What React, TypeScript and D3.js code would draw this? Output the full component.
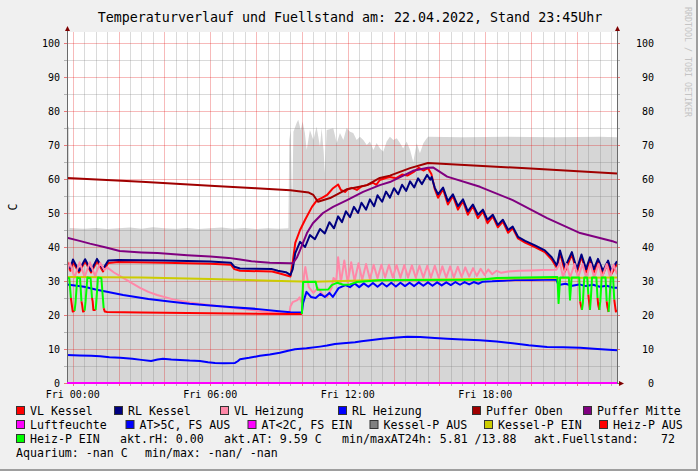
import React, { useEffect } from 'react';
import * as d3 from 'd3';

// ---------- data (hours since Fri 00:00, value in °C / %) ----------
const T_START = -0.25;
const T_END = 23.75;
const xTickHours = [0, 6, 12, 18];
const xTickLabels = ['Fri 00:00', 'Fri 06:00', 'Fri 12:00', 'Fri 18:00'];
const yTicks = [0, 10, 20, 30, 40, 50, 60, 70, 80, 90, 100];

const fuellstand: number[][] = [
  [-0.25, 75.0], [-0.17, 75.5], [-0.13, 45.6], [0.5, 45.4], [1.0, 45.6], [1.5, 45.3], [2.0, 45.5],
  [2.5, 45.7], [3.0, 45.4], [3.5, 45.8], [4.0, 45.5], [4.5, 45.4], [5.0, 45.6], [5.5, 45.3],
  [6.0, 45.5], [6.5, 45.7], [7.0, 45.4], [7.5, 45.6], [8.0, 45.3], [8.5, 45.5], [9.0, 45.4],
  [9.41, 45.5], [9.45, 71.5], [9.51, 74.4], [9.55, 60.0], [9.58, 53.8], [9.63, 73.9], [9.77, 76.5],
  [9.84, 77.4], [9.95, 74.4], [10.03, 76.9], [10.13, 73.5], [10.21, 68.5], [10.35, 74.4], [10.5, 71.5],
  [10.64, 75.4], [10.79, 69.5], [10.86, 75.0], [10.95, 68.0], [11.0, 61.7], [11.08, 74.4], [11.37, 74.9],
  [11.52, 70.5], [11.66, 73.5], [11.81, 71.5], [11.95, 75.0], [12.1, 73.9], [12.24, 73.5], [12.39, 71.5],
  [12.53, 72.4], [12.68, 71.5], [12.83, 70.0], [12.97, 71.0], [13.12, 68.5], [13.26, 70.6], [13.41, 69.0],
  [13.55, 68.0], [13.7, 71.0], [13.84, 72.4], [13.99, 71.5], [14.14, 72.0], [14.28, 70.6], [14.42, 69.0],
  [14.57, 71.0], [14.72, 68.5], [14.86, 65.0], [15.01, 70.5], [15.15, 67.6], [15.3, 70.5], [15.45, 72.0],
  [15.51, 72.4], [17.0, 72.3], [19.0, 72.4], [21.0, 72.3], [23.0, 72.4], [23.75, 72.3],
];

const vlKessel: number[][] = [
  [-0.25, 35.8], [-0.1, 33.0], [0.01, 35.6], [0.27, 32.5], [0.54, 35.8], [0.8, 32.5], [1.06, 35.8],
  [1.32, 32.8], [1.55, 35.3], [2.0, 35.6], [4.0, 35.4], [6.0, 35.1], [6.9, 34.8], [7.05, 33.5],
  [7.3, 33.0], [8.7, 32.8], [9.0, 32.3], [9.5, 31.3], [9.6, 35.5], [9.71, 41.2], [9.92, 45.0],
  [10.14, 48.0], [10.44, 51.8], [10.66, 53.8], [10.9, 54.5], [11.1, 55.3], [11.36, 57.3], [11.58, 58.4],
  [11.7, 56.8], [11.88, 56.2], [12.0, 57.0], [12.18, 57.4], [12.4, 56.8], [12.6, 57.8], [12.84, 58.2],
  [13.1, 58.9], [13.25, 58.3], [13.4, 59.7], [13.66, 60.3], [13.84, 60.6], [14.1, 60.2], [14.37, 61.3],
  [14.6, 61.0], [14.9, 62.2], [15.1, 63.3], [15.3, 62.5], [15.5, 63.2], [15.65, 61.5], [15.8, 57.0],
  [15.94, 54.5], [16.16, 57.0], [16.37, 52.5], [16.59, 55.0], [16.81, 51.0], [17.03, 53.5], [17.24, 49.5],
  [17.46, 52.0], [17.68, 48.5], [17.9, 50.5], [18.1, 47.0], [18.33, 49.0], [18.55, 45.8], [18.77, 47.5],
  [19.0, 44.2], [19.2, 45.5], [19.43, 42.5], [19.74, 41.3], [20.17, 40.0], [20.6, 38.5], [20.9, 36.3],
  [21.13, 33.8], [21.26, 38.3], [21.48, 32.8], [21.78, 37.8], [22.0, 32.5], [22.2, 37.2], [22.4, 32.5],
  [22.57, 36.5], [22.74, 32.5], [22.92, 36.0], [23.14, 32.0], [23.36, 35.5], [23.5, 32.0], [23.75, 35.0],
];

const rlKessel: number[][] = [
  [-0.25, 34.8], [-0.1, 33.8], [0.01, 36.3], [0.27, 33.0], [0.54, 36.4], [0.8, 33.0], [1.06, 36.5],
  [1.32, 33.5], [1.55, 36.0], [2.0, 36.2], [3.0, 36.1], [4.0, 36.0], [5.0, 35.9], [6.0, 35.7],
  [6.9, 35.4], [7.05, 34.2], [7.3, 33.7], [8.0, 33.6], [8.7, 33.5], [8.95, 33.0], [9.3, 32.6],
  [9.5, 31.8], [9.6, 33.5], [9.71, 38.2], [9.92, 41.5], [10.14, 40.0], [10.35, 43.5], [10.57, 42.3],
  [10.79, 45.3], [11.0, 44.0], [11.2, 47.3], [11.4, 45.5], [11.58, 49.0], [11.75, 47.3], [11.92, 50.5],
  [12.1, 48.8], [12.27, 51.8], [12.45, 50.0], [12.6, 53.0], [12.8, 51.0], [12.97, 54.0], [13.15, 52.0],
  [13.3, 55.2], [13.5, 53.3], [13.67, 56.3], [13.84, 54.5], [14.02, 57.3], [14.2, 55.5], [14.37, 58.3],
  [14.55, 56.5], [14.72, 59.3], [14.9, 57.5], [15.07, 60.2], [15.24, 58.5], [15.46, 61.2], [15.6, 59.8],
  [15.66, 60.6], [15.8, 57.4], [15.94, 55.5], [16.16, 57.5], [16.37, 53.5], [16.59, 55.5], [16.81, 52.0],
  [17.03, 54.0], [17.24, 50.5], [17.46, 52.5], [17.68, 49.5], [17.9, 51.0], [18.1, 48.0], [18.33, 49.5],
  [18.55, 46.5], [18.77, 48.0], [19.0, 45.0], [19.2, 46.0], [19.43, 43.0], [19.74, 41.8], [20.17, 40.5],
  [20.6, 39.0], [20.9, 37.0], [21.13, 34.5], [21.26, 39.0], [21.48, 34.0], [21.78, 38.5], [22.0, 33.5],
  [22.2, 37.8], [22.4, 33.5], [22.57, 37.0], [22.74, 33.5], [22.92, 36.5], [23.14, 33.0], [23.36, 36.0],
  [23.5, 33.0], [23.75, 35.8],
];

const vlHeizung: number[][] = [
  [-0.25, 33.0], [-0.12, 35.3], [0.08, 31.0], [0.3, 35.5], [0.52, 31.2], [0.75, 35.5], [0.97, 31.5],
  [1.2, 35.3], [1.38, 33.2], [1.5, 34.0], [1.8, 32.5], [2.2, 30.9], [2.6, 29.3], [2.94, 28.0],
  [3.3, 26.8], [3.68, 25.9], [4.38, 24.6], [5.1, 23.7], [5.86, 23.0], [6.6, 22.4], [7.3, 21.8],
  [8.0, 21.3], [8.6, 20.8], [9.3, 20.4], [9.45, 20.3], [9.5, 22.5], [9.6, 23.8], [9.8, 24.4],
  [9.9, 25.2], [10.0, 23.5], [10.1, 32.0], [10.15, 34.1], [10.3, 28.2], [10.5, 26.5], [10.7, 28.0],
  [10.9, 26.0], [11.1, 25.3], [11.3, 28.0], [11.38, 30.9], [11.5, 30.0], [11.58, 37.0], [11.7, 29.5],
  [11.85, 36.0], [12.0, 29.5], [12.15, 35.5], [12.3, 30.0], [12.47, 35.2], [12.63, 30.3], [12.8, 35.0],
  [12.97, 30.5], [13.13, 34.8], [13.3, 30.8], [13.47, 34.8], [13.63, 31.0], [13.8, 34.8], [13.97, 31.0],
  [14.13, 34.7], [14.3, 31.0], [14.47, 34.7], [14.63, 31.0], [14.8, 34.6], [14.97, 31.0], [15.13, 34.5],
  [15.3, 31.0], [15.47, 34.5], [15.63, 31.0], [15.8, 34.5], [15.97, 31.0], [16.13, 34.3], [16.3, 31.0],
  [16.47, 34.3], [16.63, 31.0], [16.8, 34.2], [16.97, 31.2], [17.13, 34.0], [17.3, 31.3], [17.47, 33.8],
  [17.63, 31.5], [17.8, 33.6], [17.97, 31.8], [18.13, 33.4], [18.3, 32.0], [18.5, 33.0], [18.7, 32.4],
  [19.0, 32.8], [19.5, 33.0], [20.0, 33.1], [20.5, 33.2], [21.1, 33.3], [21.26, 35.3], [21.4, 31.0],
  [21.55, 35.0], [21.7, 31.0], [21.9, 35.0], [22.05, 31.0], [22.25, 35.0], [22.4, 31.0], [22.6, 35.0],
  [22.75, 31.0], [22.95, 35.0], [23.1, 31.0], [23.3, 35.0], [23.45, 31.0], [23.6, 34.8], [23.75, 32.0],
];

const rlHeizung: number[][] = [
  [-0.25, 29.0], [0.5, 28.3], [1.0, 27.5], [1.6, 26.7], [2.2, 25.9], [3.3, 24.7], [4.4, 23.8],
  [5.1, 23.3], [5.86, 22.9], [7.0, 22.3], [8.0, 21.8], [9.0, 21.1], [9.5, 20.8], [10.0, 20.7],
  [10.05, 23.5], [10.2, 26.8], [10.4, 25.3], [10.6, 25.0], [10.8, 26.2], [11.0, 25.3], [11.2, 26.5],
  [11.35, 25.3], [11.6, 27.9], [11.9, 28.8], [12.1, 28.2], [12.3, 29.3], [12.5, 28.2], [12.7, 29.3],
  [12.9, 28.3], [13.1, 29.4], [13.3, 28.3], [13.5, 29.4], [13.7, 28.4], [13.9, 29.5], [14.1, 28.4],
  [14.3, 29.5], [14.5, 28.5], [14.7, 29.5], [14.9, 28.5], [15.1, 29.6], [15.3, 28.6], [15.5, 29.6],
  [15.7, 28.6], [15.9, 29.6], [16.1, 28.7], [16.3, 29.6], [16.5, 28.8], [16.7, 29.7], [16.9, 28.9],
  [17.1, 29.7], [17.3, 29.0], [17.5, 29.7], [17.7, 29.2], [17.9, 29.8], [18.3, 29.9], [18.8, 30.1],
  [19.3, 30.3], [20.0, 30.3], [20.6, 30.4], [21.1, 30.4], [21.2, 28.8], [21.5, 29.2], [21.8, 28.6],
  [22.1, 29.0], [22.4, 28.5], [22.7, 28.9], [23.0, 28.3], [23.3, 28.6], [23.6, 28.0], [23.75, 28.0],
];

const pufferOben: number[][] = [
  [-0.25, 60.3], [3.0, 59.2], [6.0, 58.0], [8.0, 57.3], [9.5, 56.7], [10.3, 56.0], [10.5, 55.3],
  [10.7, 53.3], [11.23, 54.4], [11.97, 57.0], [12.84, 58.2], [13.4, 60.3], [13.84, 61.0], [14.72, 63.2],
  [15.5, 64.7], [19.6, 63.2], [23.75, 61.6],
];

const pufferMitte: number[][] = [
  [-0.25, 42.7], [0.3, 41.8], [0.75, 41.0], [1.5, 39.8], [2.05, 38.8], [3.0, 38.4], [3.7, 38.2],
  [5.0, 37.6], [6.0, 37.2], [6.8, 36.8], [7.3, 36.3], [7.8, 35.8], [8.6, 35.4], [9.49, 35.2],
  [9.62, 35.3], [9.79, 37.0], [9.92, 39.1], [10.22, 44.1], [10.48, 47.0], [10.92, 50.0], [11.36, 51.8],
  [11.97, 53.8], [12.67, 56.2], [13.4, 58.2], [13.84, 59.1], [14.85, 62.4], [15.5, 63.3], [15.72, 63.4],
  [16.34, 60.7], [17.77, 57.7], [19.2, 53.8], [20.7, 48.5], [22.14, 44.1], [23.6, 41.6], [23.75, 41.2],
];

const aussenTemp: number[][] = [
  [-0.25, 8.2], [0.3, 8.1], [0.8, 8.0], [1.2, 7.9], [1.6, 7.6], [2.07, 7.4], [2.6, 7.1], [3.0, 6.8],
  [3.42, 6.5], [3.7, 6.9], [3.94, 7.1], [4.3, 6.9], [4.68, 6.8], [5.1, 6.6], [5.55, 6.5], [5.9, 6.1],
  [6.21, 5.9], [6.6, 5.8], [7.08, 5.9], [7.2, 6.4], [7.3, 7.0], [7.7, 7.4], [8.17, 8.0], [8.6, 8.4],
  [9.04, 8.9], [9.4, 9.5], [9.7, 9.9], [10.2, 10.2], [10.79, 10.7], [11.1, 11.0], [11.44, 11.5],
  [11.8, 11.7], [12.32, 12.0], [12.6, 12.3], [12.97, 12.6], [13.5, 13.0], [14.15, 13.4], [14.6, 13.6],
  [15.16, 13.5], [15.8, 13.2], [16.34, 13.0], [17.0, 12.8], [17.77, 12.6], [18.5, 12.2], [19.2, 11.7],
  [19.9, 11.1], [20.7, 10.6], [21.4, 10.5], [22.14, 10.4], [22.9, 10.0], [23.4, 9.8], [23.75, 9.6],
];

const luftfeuchte: number[][] = [[-0.25, 0], [23.75, 0]];

const kesselPEin: number[][] = [
  [-0.25, 31.2], [3.0, 31.0], [6.0, 30.6], [9.5, 29.9], [10.5, 29.8], [13.0, 30.2], [17.0, 30.5],
  [21.0, 30.9], [23.75, 31.0],
];

// [hour, value, pump on (1) / off (0)]
const heizP: number[][] = [
  [-0.25, 31.0, 1], [-0.15, 30.8, 1], [-0.08, 25.0, 1], [-0.05, 23.5, 0], [0.0, 21.0, 0], [0.08, 21.2, 0],
  [0.12, 23.5, 1], [0.2, 31.0, 1], [0.32, 30.8, 1], [0.38, 24.0, 1], [0.41, 23.0, 0], [0.45, 21.0, 0],
  [0.52, 21.3, 0], [0.56, 24.0, 1], [0.64, 31.0, 1], [0.78, 30.8, 1], [0.84, 25.0, 1], [0.87, 24.0, 0],
  [0.9, 21.5, 0], [1.0, 21.5, 0], [1.03, 24.0, 1], [1.1, 31.0, 1], [1.25, 30.8, 1], [1.35, 22.0, 1],
  [1.4, 21.0, 0], [1.5, 20.9, 0], [3.0, 20.7, 0], [6.0, 20.5, 0], [8.0, 20.4, 0], [9.5, 20.3, 0],
  [10.0, 20.3, 0], [10.05, 29.7, 1], [10.6, 29.8, 1], [10.68, 27.4, 1], [11.15, 27.5, 1], [11.3, 28.8, 1],
  [11.55, 29.5, 1], [11.8, 28.9, 1], [12.1, 29.0, 1], [12.4, 29.7, 1], [13.4, 30.2, 1], [15.0, 30.3, 1],
  [17.8, 30.4, 1], [18.5, 30.9, 1], [21.1, 31.2, 1], [21.15, 31.2, 1], [21.2, 23.5, 1], [21.27, 31.0, 1],
  [21.65, 31.0, 1], [21.7, 24.5, 1], [21.77, 31.0, 1], [22.1, 31.0, 1], [22.14, 24.0, 1], [22.17, 23.0, 0],
  [22.22, 21.5, 0], [22.26, 23.5, 1], [22.32, 31.0, 1], [22.45, 31.0, 1], [22.5, 26.0, 1], [22.53, 24.0, 0],
  [22.57, 21.5, 0], [22.61, 25.0, 1], [22.66, 31.0, 1], [22.85, 31.0, 1], [22.9, 25.0, 1], [22.93, 23.0, 0],
  [22.98, 21.5, 0], [23.02, 24.0, 1], [23.08, 31.0, 1], [23.25, 31.0, 1], [23.3, 24.0, 1], [23.33, 22.5, 0],
  [23.38, 20.9, 0], [23.42, 24.0, 1], [23.48, 31.0, 1], [23.58, 31.0, 1], [23.63, 24.5, 1], [23.66, 23.0, 0],
  [23.7, 21.0, 0], [23.75, 21.5, 0],
];

const legendRow1 = ['VL Kessel', 'RL Kessel', 'VL Heizung', 'RL Heizung', 'Puffer Oben', 'Puffer Mitte'];
const legendRow1Colors = ['#ff0000', '#000080', '#ff88a8', '#0000ff', '#a00000', '#800080'];
const legendRow2 = ['Luftfeuchte', 'AT>5C, FS AUS', 'AT<2C, FS EIN', 'Kessel-P AUS', 'Kessel-P EIN', 'Heiz-P AUS'];
const legendRow2Colors = ['#ff00ff', '#0000ff', '#ff00ff', '#808080', '#cccc00', '#ff0000'];
const legendRow3Swatch = 'Heiz-P EIN';
const legendRow3Color = '#00ff00';
const statTexts = ['akt.rH: 0.00', 'akt.AT: 9.59 C', 'min/maxAT24h: 5.81 /13.88', 'akt.Fuellstand:', '72'];
const aquariumTexts = ['Aquarium: -nan C', 'min/max: -nan/ -nan'];
const titleText = 'Temperaturverlauf und Fuellstand am: 22.04.2022, Stand 23:45Uhr';
const yAxisTitle = 'C';
const watermark = 'RRDTOOL / TOBI OETIKER';

// ---------- layout ----------
const W = 698;
const H = 471;
const PL = 67;
const PR = 617;
const PT = 32;
const PB = 383;
const FONT = '"DejaVu Sans Mono", "Liberation Mono", monospace';
const row1X = [16, 114, 220, 338, 472, 583];
const row2X = [16, 125.5, 247.5, 369.5, 484, 599];
const statX = [120, 224, 342, 534, 661];
const aquaX = [16, 145];
const rowY = [411, 425, 439, 453];

export default function App() {
  useEffect(() => {
    document.body.style.margin = '0';
  }, []);

  const x = d3.scaleLinear().domain([T_START, T_END]).range([PL, PR]);
  const y = d3.scaleLinear().domain([0, 100]).range([PB, 43]);
  const line = d3.line<number[]>().x(d => x(d[0])).y(d => y(d[1]));
  const area = d3.area<number[]>().x(d => x(d[0])).y0(y(0)).y1(d => y(d[1]));

  const hGrid = d3.range(0, 101, 5);
  const vGrid = d3.range(0, 24, 0.5);

  // heiz-pump segments coloured by state
  const heizRuns: { on: boolean; pts: number[][] }[] = [];
  let cur: { on: boolean; pts: number[][] } | null = null;
  for (let i = 1; i < heizP.length; i++) {
    const on = heizP[i][2] === 1;
    if (!cur || cur.on !== on) {
      cur = { on, pts: [heizP[i - 1]] };
      heizRuns.push(cur);
    }
    cur.pts.push(heizP[i]);
  }

  const minorCol = 'rgba(120,120,120,0.27)';
  const majorCol = 'rgba(225,0,0,0.27)';

  const series: { data: number[][]; color: string }[] = [
    { data: vlKessel, color: '#ff0000' },
    { data: rlKessel, color: '#000080' },
    { data: vlHeizung, color: '#ff88a8' },
    { data: rlHeizung, color: '#0000ff' },
    { data: pufferOben, color: '#a00000' },
    { data: pufferMitte, color: '#800080' },
    { data: aussenTemp, color: '#0000ff' },
    { data: kesselPEin, color: '#cccc00' },
  ];

  const swatch = (sx: number, cy: number, color: string, key: string) => (
    <rect key={key} x={sx + 0.5} y={cy - 4.5} width={8} height={8} fill={color} stroke="#333" strokeWidth={1} />
  );

  return (
    <svg width={W} height={H} style={{ position: 'absolute', left: 0, top: 0, display: 'block' }} fontFamily={FONT}>
      <defs>
        <clipPath id="plotClip">
          <rect x={PL} y={PT} width={PR - PL} height={PB - PT + 2} />
        </clipPath>
      </defs>
      <rect x={0} y={0} width={W} height={H} fill="#f0f0f0" />
      <rect x={W - 2} y={0} width={2} height={H} fill="#9e9e9e" />
      <rect x={0} y={H - 2} width={W} height={2} fill="#9e9e9e" />

      {/* plot canvas */}
      <rect x={PL} y={PT} width={PR - PL} height={PB - PT} fill="#ffffff" />

      <g clipPath="url(#plotClip)">
        <path d={area(fuellstand) || ''} fill="#d6d6d6" />
      </g>

      {/* grid */}
      <g shapeRendering="crispEdges">
        {vGrid.map(h => {
          const major = Math.abs(h % 2) < 1e-9;
          const px = Math.round(x(h)) + 0.5;
          return (
            <g key={'v' + h}>
              <line x1={px} x2={px} y1={PT} y2={PB} stroke={major ? majorCol : minorCol} />
              <line x1={px} x2={px} y1={PB} y2={PB + 3} stroke={major ? 'rgba(225,0,0,0.5)' : 'rgba(120,120,120,0.5)'} />
            </g>
          );
        })}
        {hGrid.map(v => {
          const major = v % 10 === 0;
          const py = Math.round(y(v)) + 0.5;
          const c = major ? majorCol : minorCol;
          const ct = major ? 'rgba(225,0,0,0.5)' : 'rgba(120,120,120,0.5)';
          return (
            <g key={'h' + v}>
              <line x1={PL} x2={PR} y1={py} y2={py} stroke={c} />
              <line x1={PL - 3} x2={PL} y1={py} y2={py} stroke={ct} />
              <line x1={PR} x2={PR + 3} y1={py} y2={py} stroke={ct} />
            </g>
          );
        })}
      </g>

      {/* data lines */}
      <g clipPath="url(#plotClip)" fill="none" strokeWidth={2} strokeLinejoin="round">
        {series.map((s, i) => (
          <path key={'s' + i} d={line(s.data) || ''} stroke={s.color} />
        ))}
        {heizRuns.map((r, i) => (
          <path key={'hp' + i} d={line(r.pts) || ''} stroke={r.on ? '#00ff00' : '#ff0000'} />
        ))}
      </g>

      {/* axes */}
      <g shapeRendering="crispEdges" stroke="#6a6a6a">
        <line x1={PL + 0.5} x2={PL + 0.5} y1={PB} y2={PT - 2} />
        <line x1={PR + 0.5} x2={PR + 0.5} y1={PB} y2={PT - 2} />
        <line x1={PL} x2={PR + 3} y1={PB + 0.5} y2={PB + 0.5} />
      </g>
      <g clipPath="url(#plotClip)">
        <path d={line(luftfeuchte) || ''} stroke="#ff00ff" strokeWidth={2} fill="none" />
      </g>
      <g fill="#7f0000">
        <path d={`M${PL + 0.5 - 2.5},${PT - 1} L${PL + 0.5 + 2.5},${PT - 1} L${PL + 0.5},${PT - 6} Z`} />
        <path d={`M${PR + 0.5 - 2.5},${PT - 1} L${PR + 0.5 + 2.5},${PT - 1} L${PR + 0.5},${PT - 6} Z`} />
        <path d={`M${PR + 2},${PB + 0.5 - 2.5} L${PR + 2},${PB + 0.5 + 2.5} L${PR + 7},${PB + 0.5} Z`} />
      </g>

      {/* y labels */}
      <g fontSize={10} fill="#000">
        {yTicks.map(v => (
          <g key={'yl' + v}>
            <text x={60} y={y(v) + 3.6} textAnchor="end">{v}</text>
            <text x={654} y={y(v) + 3.6} textAnchor="end">{v}</text>
          </g>
        ))}
      </g>
      {/* x labels */}
      <g fontSize={10} fill="#000">
        {xTickHours.map((h, i) => (
          <text key={'xl' + h} x={x(h)} y={397.5} textAnchor="middle">{xTickLabels[i]}</text>
        ))}
      </g>

      <text x={13} y={207} fontSize={11.6} textAnchor="middle" dominantBaseline="central" transform="rotate(-90 13 207)" fill="#000">{yAxisTitle}</text>

      <text x={350} y={21.5} fontSize={13.3} textAnchor="middle" fill="#000">{titleText}</text>

      <text x={688} y={7} fontSize={8.3} fill="#c4c4c4" transform="rotate(90 688 7)" dominantBaseline="central">{watermark}</text>

      {/* legend */}
      <g fontSize={11.6} fill="#000">
        {legendRow1.map((t, i) => (
          <g key={'l1' + i}>
            {swatch(row1X[i], rowY[0], legendRow1Colors[i], 'sw1' + i)}
            <text x={row1X[i] + 14} y={rowY[0] + 4}>{t}</text>
          </g>
        ))}
        {legendRow2.map((t, i) => (
          <g key={'l2' + i}>
            {swatch(row2X[i], rowY[1], legendRow2Colors[i], 'sw2' + i)}
            <text x={row2X[i] + 14} y={rowY[1] + 4}>{t}</text>
          </g>
        ))}
        {swatch(16, rowY[2], legendRow3Color, 'sw3')}
        <text x={30} y={rowY[2] + 4}>{legendRow3Swatch}</text>
        {statTexts.map((t, i) => (
          <text key={'st' + i} x={statX[i]} y={rowY[2] + 4}>{t}</text>
        ))}
        {aquariumTexts.map((t, i) => (
          <text key={'aq' + i} x={aquaX[i]} y={rowY[3] + 4}>{t}</text>
        ))}
      </g>
    </svg>
  );
}
